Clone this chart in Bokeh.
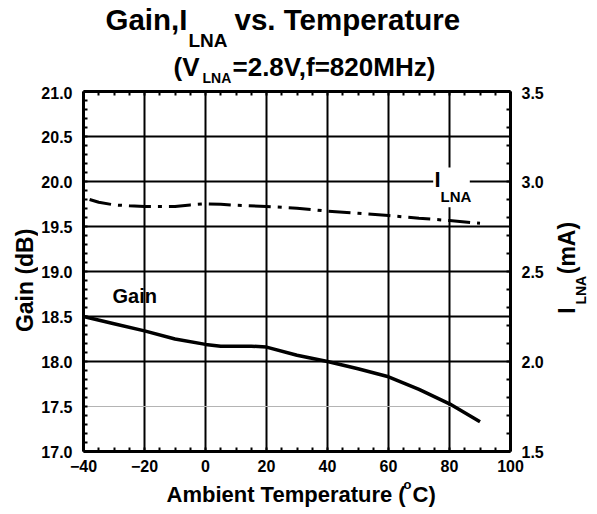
import math
from bokeh.plotting import figure
from bokeh.layouts import column, row
from bokeh.models import (Range1d, LinearAxis, FixedTicker, NumeralTickFormatter,
                          Grid, Label, BoxAnnotation)
from bokeh.embed import file_html
from bokeh.resources import INLINE

# ---------------- data ----------------
temp_gain = [-40, -30, -20, -10, 0, 5, 10, 15, 20, 30, 40, 50, 60, 70, 80, 85, 90]
gain_db = [18.50, 18.42, 18.34, 18.25, 18.19, 18.17, 18.17, 18.17, 18.16, 18.07,
           18.00, 17.92, 17.83, 17.69, 17.53, 17.43, 17.33]

temp_ilna = [-38, -35, -30, -25, -20, -10, -5, 0, 5, 10, 20, 30, 40, 50, 60, 70, 80, 90]
ilna_ma = [2.900, 2.885, 2.870, 2.865, 2.861, 2.861, 2.870, 2.876, 2.874, 2.868,
           2.861, 2.852, 2.835, 2.824, 2.811, 2.796, 2.783, 2.768]

x_ticks = [-40, -20, 0, 20, 40, 60, 80, 100]
x_minor = [-40 + 5 * i for i in range(29)]
gain_ticks = [17.0, 17.5, 18.0, 18.5, 19.0, 19.5, 20.0, 20.5, 21.0]
gain_minor = [round(17.0 + 0.1 * i, 1) for i in range(41)]
ilna_ticks = [1.5, 2.0, 2.5, 3.0, 3.5]
ilna_minor = [round(1.5 + 0.1 * i, 1) for i in range(21)]
grid_x = [-20, 0, 20, 40, 60, 80]
grid_y_black = [18.0, 18.5, 19.0, 19.5, 20.0, 20.5]
grid_y_gray = [17.5]

FONT = "Liberation Sans"

# page layout (page pixels, origin top-left)
TOTAL_W = 596
TOP_H = 86
LEFT_W = 38
FRAME_W, FRAME_H = 427, 360
MB_L, MB_R, MB_T, MB_B = 45, 42, 5, 27
MAIN_W = MB_L + FRAME_W + MB_R
MAIN_H = MB_T + FRAME_H + MB_B
RIGHT_W = TOTAL_W - LEFT_W - MAIN_W
BOTTOM_H = 512 - TOP_H - MAIN_H

FX0 = LEFT_W + MB_L          # frame left in page px
FY0 = TOP_H + MB_T           # frame top in page px
ROT_SHIFT = 15               # rotated labels are drawn this much higher than their anchor

p = figure(width=MAIN_W, height=MAIN_H, x_range=Range1d(-40, 100), y_range=Range1d(17, 21),
           output_backend="svg", toolbar_location=None, title=None,
           min_border_left=MB_L, min_border_right=MB_R, min_border_top=MB_T, min_border_bottom=MB_B)
p.extra_y_ranges = {"right": Range1d(1.5, 3.5)}
p.outline_line_color = None
p.background_fill_color = "white"
p.border_fill_color = "white"

def X(px):
    return -40 + (px - FX0) * 140.0 / FRAME_W

def Y(py):
    return 17 + (FY0 + FRAME_H - py) * 4.0 / FRAME_H

def style_axis(ax, standoff=11):
    ax.axis_line_width = 3
    ax.axis_line_color = "black"
    ax.major_tick_in = 0
    ax.major_tick_out = 0
    ax.minor_tick_in = 4
    ax.minor_tick_out = 0
    ax.minor_tick_line_width = 2
    ax.minor_tick_line_color = "black"
    ax.major_label_text_font = FONT
    ax.major_label_text_font_style = "bold"
    ax.major_label_text_color = "black"
    ax.major_label_text_font_size = "16px"
    ax.major_label_standoff = standoff

xa = p.xaxis[0]
xa.ticker = FixedTicker(ticks=x_ticks, minor_ticks=x_minor)
style_axis(xa, standoff=8)
ya = p.yaxis[0]
ya.ticker = FixedTicker(ticks=gain_ticks, minor_ticks=gain_minor)
ya.formatter = NumeralTickFormatter(format="0.0")
style_axis(ya)
ta = LinearAxis(ticker=FixedTicker(ticks=[], minor_ticks=x_minor))
style_axis(ta)
ta.major_label_standoff = 0
p.add_layout(ta, "above")
ra = LinearAxis(y_range_name="right", ticker=FixedTicker(ticks=ilna_ticks, minor_ticks=ilna_minor),
                formatter=NumeralTickFormatter(format="0.0"))
style_axis(ra)
p.add_layout(ra, "right")

p.xgrid.ticker = FixedTicker(ticks=grid_x)
p.xgrid.grid_line_color = "black"
p.xgrid.grid_line_width = 2
p.ygrid.ticker = FixedTicker(ticks=grid_y_black)
p.ygrid.grid_line_color = "black"
p.ygrid.grid_line_width = 2
g2 = Grid(dimension=1, ticker=FixedTicker(ticks=grid_y_gray), grid_line_color="#b4b4b4", grid_line_width=1)
p.add_layout(g2)

p.line(temp_gain, gain_db, line_color="black", line_width=3.5)
p.line(temp_ilna, ilna_ma, y_range_name="right", line_color="black", line_width=3,
       line_dash="22 7 4 7")

p.add_layout(BoxAnnotation(left=X(432.7), right=X(469.3), top=Y(167), bottom=Y(206.7),
                           fill_color="white", fill_alpha=1.0, line_color=None, level="underlay"))

def mk_label(x, y, text, size, align="left", angle=0.0):
    return Label(x=x, y=y, text=text, text_font=FONT, text_font_style="bold",
                 text_font_size=f"{size}px", text_color="black", text_align=align,
                 text_baseline="middle", angle=angle)

def lab(px, py, text, size, align="left"):
    p.add_layout(mk_label(X(px), Y(py), text, size, align))

lab(112, 295, "Gain", 20)
lab(434, 179, "I", 22)
lab(440, 195.5, "LNA", 15)

def text_fig(x0, y0, w, h):
    f = figure(width=w, height=h, x_range=Range1d(x0, x0 + w), y_range=Range1d(-(y0 + h), -y0),
               output_backend="svg", toolbar_location=None, title=None, x_axis_location=None,
               y_axis_location=None, min_border=0)
    f.outline_line_color = None
    f.grid.visible = False
    f.background_fill_color = "white"
    f.border_fill_color = "white"
    return f

def tlab(f, px, py, text, size, align="left"):
    f.add_layout(mk_label(px, -py, text, size, align))

def rlab(f, px, py, text, size):
    f.add_layout(mk_label(px, -(py + ROT_SHIFT), text, size, "left", math.pi / 2))

top = text_fig(0, 0, TOTAL_W, TOP_H)
tlab(top, 105, 18.5, "Gain,I", 29.5)
tlab(top, 188, 40, "LNA", 19)
tlab(top, 234, 18.5, "vs. Temperature", 29.5)
tlab(top, 199, 66, "(V", 26, align="right")
tlab(top, 202, 77.5, "LNA", 14)
tlab(top, 232, 66, "=2.8V,f=820MHz)", 26)

left = text_fig(0, TOP_H, LEFT_W, MAIN_H)
rlab(left, 24, 333, "Gain (dB)", 23)

right = text_fig(LEFT_W + MAIN_W, TOP_H, RIGHT_W, MAIN_H)
rlab(right, 566, 313, "I", 23)
rlab(right, 580, 303, "LNA", 14)
rlab(right, 566, 270, "(mA)", 23)

bottom = text_fig(0, TOP_H + MAIN_H, TOTAL_W, BOTTOM_H)
tlab(bottom, 166, 494, "Ambient Temperature (", 22)
tlab(bottom, 403, 484, "o", 13)
tlab(bottom, 412, 494, "C)", 22)

layout = column(top, row(left, p, right), bottom)
open("out.html", "w").write(file_html(layout, INLINE))
